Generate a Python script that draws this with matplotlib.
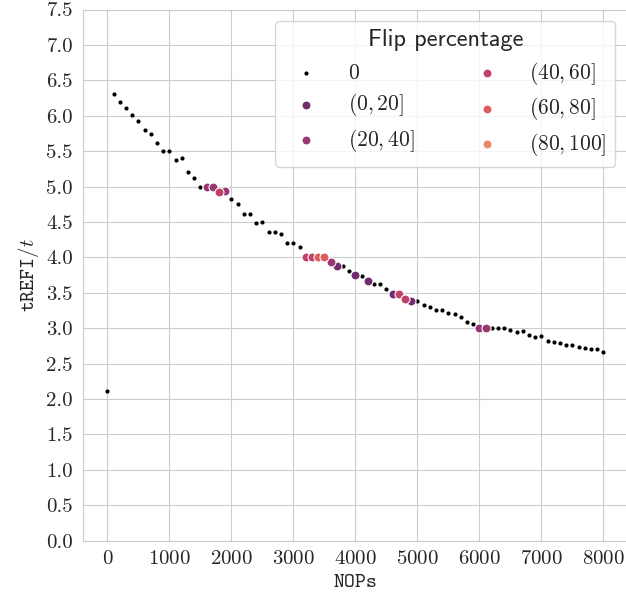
import matplotlib
matplotlib.use("Agg")
import matplotlib.pyplot as plt
import seaborn as sns

# NOPs between accesses
nops = [
    0, 100, 200, 300, 400, 500, 600, 700, 800, 900,
    1000, 1100, 1200, 1300, 1400, 1500, 1600, 1700, 1800, 1900,
    2000, 2100, 2200, 2300, 2400, 2500, 2600, 2700, 2800, 2900,
    3000, 3100, 3200, 3300, 3400, 3500, 3600, 3700, 3800, 3900,
    4000, 4100, 4200, 4300, 4400, 4500, 4600, 4700, 4800, 4900,
    5000, 5100, 5200, 5300, 5400, 5500, 5600, 5700, 5800, 5900,
    6000, 6100, 6200, 6300, 6400, 6500, 6600, 6700, 6800, 6900,
    7000, 7100, 7200, 7300, 7400, 7500, 7600, 7700, 7800, 7900,
    8000,
]

# tREFI / t
ratio = [
    2.12, 6.31, 6.19, 6.11, 6.01, 5.92, 5.80, 5.74, 5.61, 5.50,
    5.50, 5.37, 5.40, 5.21, 5.12, 5.00, 5.00, 5.00, 4.92, 4.94,
    4.83, 4.75, 4.61, 4.61, 4.48, 4.50, 4.36, 4.36, 4.33, 4.21,
    4.21, 4.14, 4.01, 4.01, 4.01, 4.01, 3.93, 3.88, 3.88, 3.81,
    3.75, 3.74, 3.66, 3.62, 3.62, 3.55, 3.49, 3.49, 3.41, 3.39,
    3.39, 3.33, 3.30, 3.26, 3.26, 3.21, 3.20, 3.16, 3.09, 3.06,
    3.00, 3.00, 3.00, 3.00, 3.00, 2.98, 2.94, 2.96, 2.90, 2.88,
    2.89, 2.82, 2.80, 2.79, 2.77, 2.77, 2.74, 2.72, 2.70, 2.70,
    2.67,
]

# flip percentage bin for each point (0 = no flips)
flip_bin = [
    0, 0, 0, 0, 0, 0, 0, 0, 0, 0,
    0, 0, 0, 0, 0, 0, 2, 2, 3, 2,
    0, 0, 0, 0, 0, 0, 0, 0, 0, 0,
    0, 0, 3, 3, 4, 4, 2, 1, 0, 0,
    1, 0, 1, 0, 0, 0, 1, 3, 3, 1,
    0, 0, 0, 0, 0, 0, 0, 0, 0, 0,
    2, 2, 0, 0, 0, 0, 0, 0, 0, 0,
    0, 0, 0, 0, 0, 0, 0, 0, 0, 0,
    0,
]

bin_labels = ["$0$", "$(0, 20]$", "$(20, 40]$", "$(40, 60]$", "$(60, 80]$", "$(80, 100]$"]

sns.set_style("whitegrid")
plt.rcParams["font.family"] = "serif"
plt.rcParams["font.serif"] = ["cmr10"]
plt.rcParams["mathtext.fontset"] = "cm"
plt.rcParams["axes.formatter.use_mathtext"] = True

colors = ["black"] + sns.color_palette("flare_r", 5)

fig = plt.figure(figsize=(6.26, 6.03), dpi=100)
ax = fig.add_axes([82.7 / 626, 62.3 / 603, 545.5 / 626, 531.2 / 603])

for b in range(len(bin_labels)):
    xs = [x for x, f in zip(nops, flip_bin) if f == b]
    ys = [y for y, f in zip(ratio, flip_bin) if f == b]
    if b == 0:
        ax.scatter(xs, ys, s=9, color=colors[b], linewidths=0, label=bin_labels[b], zorder=3)
    else:
        ax.scatter(xs, ys, s=42, color=colors[b], edgecolors="white", linewidths=0.8,
                   label=bin_labels[b], zorder=4)

ax.set_xlim(-400, 8400)
ax.set_ylim(0, 7.5)
ax.set_xticks([0, 1000, 2000, 3000, 4000, 5000, 6000, 7000, 8000])
ax.set_yticks([i * 0.5 for i in range(16)])
ax.set_yticklabels([f"{i * 0.5:.1f}" for i in range(16)])
ax.tick_params(labelsize=15)

ax.set_xlabel("NOPs", family="cmtt10", fontsize=15)
ax.set_ylabel(r"$\mathtt{tREFI}/t$", fontsize=15)

leg = ax.legend(title="Flip percentage", ncol=2, loc="upper right",
                bbox_to_anchor=(0.9765, 0.979), borderaxespad=0, fontsize=15.5,
                title_fontproperties={"family": "cmss10", "size": 17.5},
                columnspacing=2.4, handletextpad=0.95, labelspacing=0.4,
                borderpad=0.4, frameon=True)

plt.savefig("out.png", dpi=100)
